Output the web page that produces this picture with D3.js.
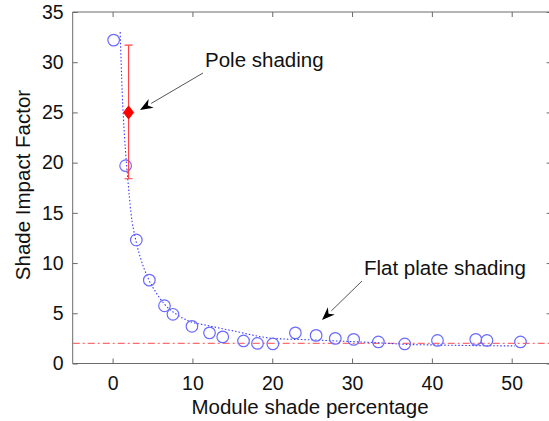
<!DOCTYPE html>
<html><head><meta charset="utf-8">
<script src="https://cdnjs.cloudflare.com/ajax/libs/d3/7.8.5/d3.min.js"></script>
<style>body{margin:0;background:#fff}svg{display:block}text{font-family:"Liberation Sans",Arial,sans-serif}</style>
</head><body>
<script>
// Measured points (module shade %, shade impact factor)
const shadePct = [0.13, 1.63, 2.97, 4.6, 6.5, 7.56, 9.94, 12.14, 13.8, 16.4, 18.15, 20.08, 22.9, 25.5, 27.9, 30.2, 33.3, 36.6, 40.7, 45.5, 46.9, 51.1];
const impact   = [32.2, 19.7, 12.3, 8.3, 5.75, 4.9, 3.7, 3.05, 2.65, 2.25, 2.0, 1.95, 3.05, 2.8, 2.5, 2.4, 2.15, 1.95, 2.3, 2.4, 2.3, 2.15];
// Fitted curve
const fitX = [0.95, 1.2, 1.5, 1.9, 2.3, 2.9, 3.5, 4.5, 5.5, 6.5, 8, 9.3, 11.8, 15.1, 20.1, 25, 27.9, 33.6, 36.9, 40, 45.7, 50.4];
const fitY = [33, 27, 22.5, 18.4, 15, 12.3, 10.5, 8.4, 7.0, 5.9, 4.9, 4.3, 3.8, 3.25, 2.5, 2.35, 2.25, 2.05, 1.9, 1.85, 1.78, 1.75];
// Pole shading point
const poleX = [2];
const poleY = [25];
const poleLo = [18.4];
const poleHi = [31.7];
// Flat plate shading level
const flatLevel = 2;
const xTicks = [0, 10, 20, 30, 40, 50];
const yTicks = [0, 5, 10, 15, 20, 25, 30, 35];

const W = 549, H = 421;
const svg = d3.select("body").append("svg").attr("width", W).attr("height", H);
const x = d3.scaleLinear().domain([-5, 55]).range([72.7, 551.6]);
const y = d3.scaleLinear().domain([0, 35]).range([363.5, 12]);
const axisCol = "#6a6a6a";
const fs = 19.5;

// clip
svg.append("defs").append("clipPath").attr("id","clip").append("rect")
  .attr("x", x(-5)).attr("y", y(35)).attr("width", x(55)-x(-5)).attr("height", y(0)-y(35));

// axes lines (box)
const g = svg.append("g");
g.append("line").attr("x1", x(-5)).attr("x2", x(55)).attr("y1", y(0)).attr("y2", y(0)).attr("stroke", axisCol);
g.append("line").attr("x1", x(-5)).attr("x2", x(55)).attr("y1", y(35)).attr("y2", y(35)).attr("stroke", axisCol);
g.append("line").attr("x1", x(-5)).attr("x2", x(-5)).attr("y1", y(0)).attr("y2", y(35)).attr("stroke", axisCol);
g.append("line").attr("x1", x(55)).attr("x2", x(55)).attr("y1", y(0)).attr("y2", y(35)).attr("stroke", axisCol);

// bottom axis
const xb = svg.append("g").attr("transform", `translate(0,${y(0)})`)
  .call(d3.axisBottom(x).tickValues(xTicks).tickSize(-5).tickPadding(13).tickFormat(d3.format("d")));
const xt = svg.append("g").attr("transform", `translate(0,${y(35)})`)
  .call(d3.axisTop(x).tickValues(xTicks).tickSize(-5).tickFormat(""));
const yl = svg.append("g").attr("transform", `translate(${x(-5)},0)`)
  .call(d3.axisLeft(y).tickValues(yTicks).tickSize(-5).tickPadding(9).tickFormat(d3.format("d")));
const yr = svg.append("g").attr("transform", `translate(${x(55)},0)`)
  .call(d3.axisRight(y).tickValues(yTicks).tickSize(-5).tickFormat(""));
[xb, xt, yl, yr].forEach(a => {
  a.select(".domain").remove();
  a.selectAll(".tick line").attr("stroke", axisCol);
  a.selectAll("text").attr("fill", "#111").style("font-size", fs + "px").style("font-family", '"Liberation Sans",Arial,sans-serif');
});

const plot = svg.append("g").attr("clip-path", "url(#clip)");

// flat plate line
plot.append("line").attr("x1", x(-5)).attr("x2", x(55)).attr("y1", y(flatLevel)).attr("y2", y(flatLevel))
  .attr("stroke", "#ff6e6e").attr("stroke-width", 1.2).attr("stroke-dasharray", "7,3,2,3");

// fit curve
const fit = fitX.map((d, i) => [d, fitY[i]]);
plot.append("path").datum(fit)
  .attr("d", d3.line().x(d => x(d[0])).y(d => y(d[1])).curve(d3.curveMonotoneX))
  .attr("fill", "none").attr("stroke", "#3c3cff").attr("stroke-width", 1.1).attr("stroke-dasharray", "1.5,2");

// circles
plot.selectAll("circle.pt").data(shadePct.map((d, i) => [d, impact[i]])).enter().append("circle")
  .attr("class", "pt").attr("cx", d => x(d[0])).attr("cy", d => y(d[1])).attr("r", 5.8)
  .attr("fill", "none").attr("stroke", "#6b6bff").attr("stroke-width", 1.2);

// error bar
poleX.forEach((px, i) => {
  const cx = x(px);
  plot.append("line").attr("x1", cx).attr("x2", cx).attr("y1", y(poleLo[i])).attr("y2", y(poleHi[i])).attr("stroke", "#ff4040").attr("stroke-width", 1.1);
  [poleLo[i], poleHi[i]].forEach(v => plot.append("line").attr("x1", cx - 4).attr("x2", cx + 4).attr("y1", y(v)).attr("y2", y(v)).attr("stroke", "#ff4040").attr("stroke-width", 1.1));
  const cy = y(poleY[i]);
  plot.append("path").attr("d", `M${cx},${cy-6.5}L${cx+5},${cy}L${cx},${cy+6.5}L${cx-5},${cy}Z`).attr("fill", "#ff0000").attr("stroke", "#ff0000");
});

// annotations
function arrow(x1, y1, x2, y2) {
  const ang = Math.atan2(y2 - y1, x2 - x1);
  const L = 13, Wd = 5;
  const bx = x2 - L * Math.cos(ang), by = y2 - L * Math.sin(ang);
  svg.append("line").attr("x1", x1).attr("y1", y1).attr("x2", bx).attr("y2", by).attr("stroke", "#555").attr("stroke-width", 1);
  const px = -Math.sin(ang), py = Math.cos(ang);
  const ix = x2 - L * 0.7 * Math.cos(ang), iy = y2 - L * 0.7 * Math.sin(ang);
  svg.append("path").attr("d", `M${x2},${y2}L${bx + px*Wd},${by + py*Wd}L${ix},${iy}L${bx - px*Wd},${by - py*Wd}Z`).attr("fill", "#000");
}
arrow(203, 73, 140, 110);
arrow(362, 281, 322, 320);
svg.append("text").attr("x", 205).attr("y", 67).attr("font-size", 20.5).attr("fill", "#111").text("Pole shading");
svg.append("text").attr("x", 364).attr("y", 275).attr("font-size", 20.5).attr("fill", "#111").text("Flat plate shading");

// axis labels
svg.append("text").attr("x", 310).attr("y", 414).attr("text-anchor", "middle").attr("font-size", 20.5).attr("fill", "#111").text("Module shade percentage");
svg.append("text").attr("transform", "translate(30,185) rotate(-90)").attr("text-anchor", "middle").attr("font-size", 20.5).attr("fill", "#111").text("Shade Impact Factor");
</script>
</body></html>
